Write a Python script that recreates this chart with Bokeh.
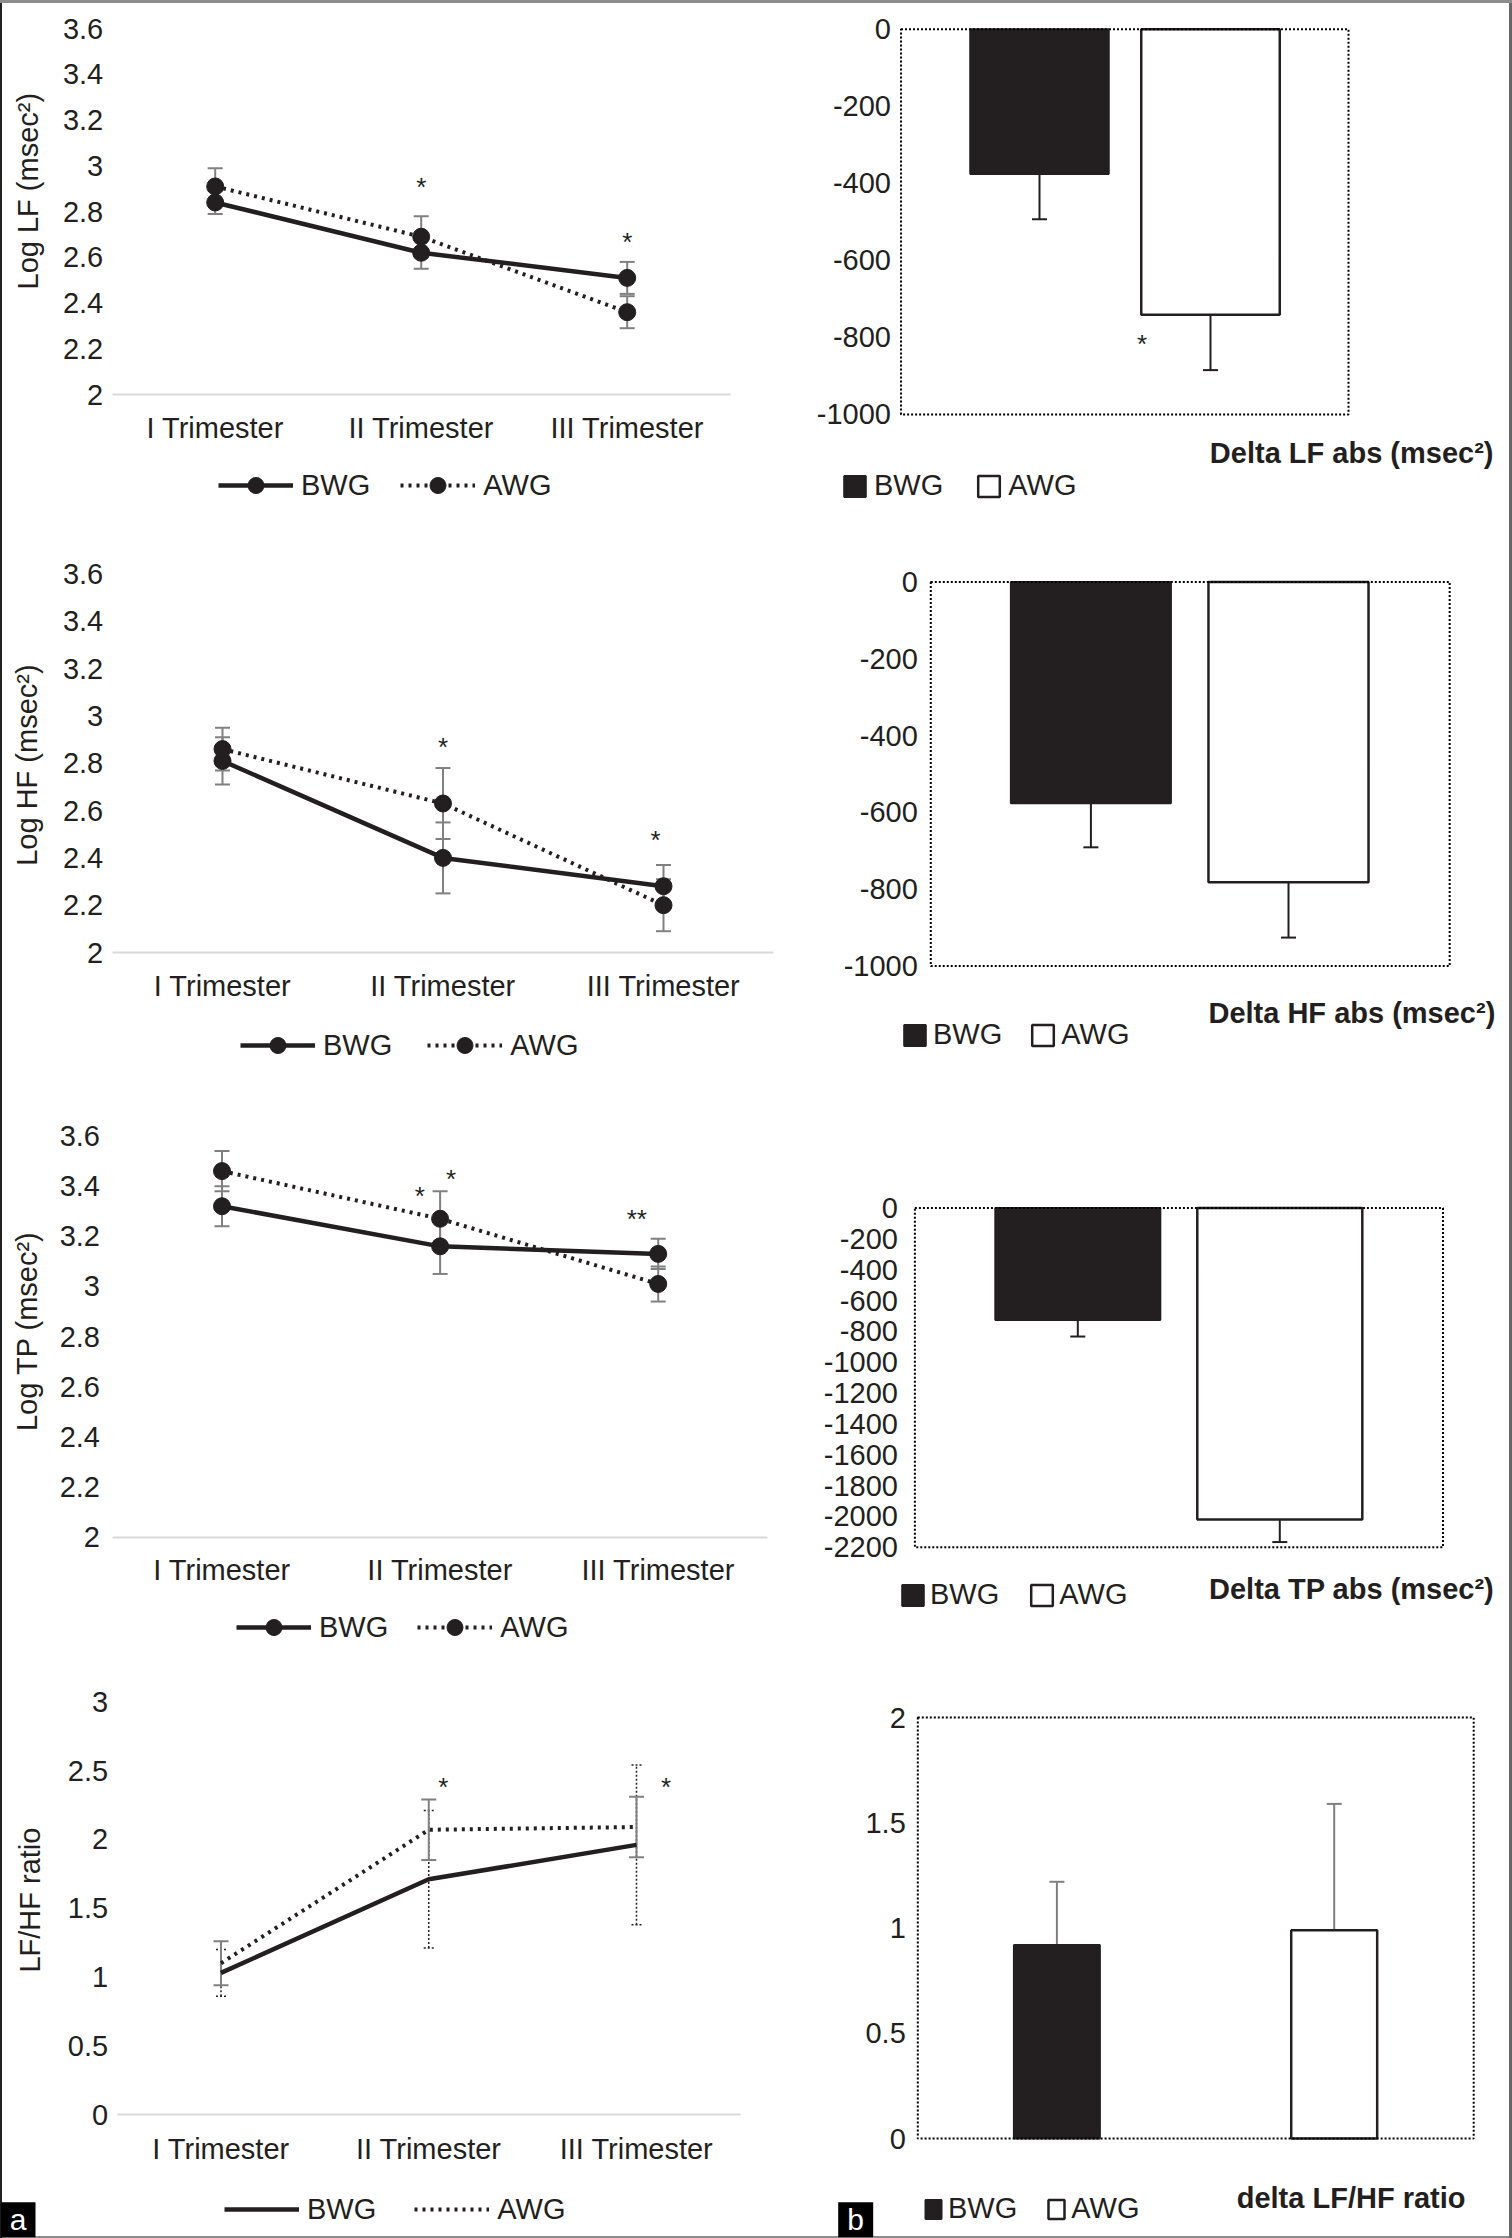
import math
from bokeh.plotting import figure
from bokeh.models import (Range1d, FixedTicker, NumeralTickFormatter, CustomJSTickFormatter, Whisker,
                          TeeHead, ColumnDataSource, Legend, LegendItem, Label, BoxAnnotation)
from bokeh.layouts import row, column
from bokeh.core.properties import value
from bokeh.embed import file_html
from bokeh.resources import INLINE

# ---------------- data ----------------
TRIMESTERS = ["I Trimester", "II Trimester", "III Trimester"]
GROUPS = ["BWG", "AWG"]

LF_BWG = [2.84, 2.62, 2.51]
LF_BWG_ERR = [0.05, 0.07, 0.07]
LF_AWG = [2.91, 2.69, 2.36]
LF_AWG_ERR = [0.08, 0.09, 0.07]

HF_BWG = [2.81, 2.40, 2.28]
HF_BWG_ERR = [0.10, 0.15, 0.09]
HF_AWG = [2.86, 2.63, 2.20]
HF_AWG_ERR = [0.09, 0.15, 0.11]

TP_BWG = [3.32, 3.16, 3.13]
TP_BWG_ERR = [0.08, 0.11, 0.06]
TP_AWG = [3.46, 3.27, 3.01]
TP_AWG_ERR = [0.08, 0.11, 0.07]

RATIO_BWG = [1.03, 1.71, 1.96]
RATIO_BWG_ERR = [0.17, 0.50, 0.58]
RATIO_AWG = [1.10, 2.07, 2.09]
RATIO_AWG_ERR = [0.16, 0.22, 0.22]

DELTA_LF = [-376, -741]
DELTA_LF_ERR = [117, 144]
DELTA_HF = [-576, -782]
DELTA_HF_ERR = [115, 144]
DELTA_TP = [-725, -2020]
DELTA_TP_ERR = [108, 146]
DELTA_RATIO = [0.92, 0.99]
DELTA_RATIO_ERR = [0.30, 0.60]

LOG_TICKS = [2, 2.2, 2.4, 2.6, 2.8, 3, 3.2, 3.4, 3.6]
RATIO_TICKS = [0, 0.5, 1, 1.5, 2, 2.5, 3]
DELTA_1000_TICKS = [-1000, -800, -600, -400, -200, 0]
DELTA_2200_TICKS = [-2200, -2000, -1800, -1600, -1400, -1200, -1000, -800, -600, -400, -200, 0]
DELTA_RATIO_TICKS = [0, 0.5, 1, 1.5, 2]

# significance marks: (category index, offset within category, y value, mark)
LF_STARS = [(1, 0.0, 2.93, "*"), (2, 0.0, 2.69, "*")]
HF_STARS = [(1, 0.0, 2.89, "*"), (2, -0.036, 2.495, "*")]
TP_STARS = [(1, -0.093, 3.38, "*"), (1, 0.05, 3.45, "*"), (2, -0.098, 3.29, "**")]
RATIO_STARS = [(1, 0.07, 2.42, "*"), (2, 0.142, 2.42, "*")]
DELTA_LF_STARS = [(1, -0.40, -804, "*")]

XI = list(range(len(TRIMESTERS)))
GI = list(range(len(GROUPS)))

# ---------------- style ----------------
FONT = "Liberation Sans"
INK = "#231f20"
ERR_GRAY = "#808080"
AXIS_GRAY = "#d9d9d9"
FS = "29px"


def rng(pa, va, pb, vb, size):
    """Range whose scale maps value va -> pixel pa and vb -> pb over a canvas of `size` px."""
    b = (pb - pa) / (vb - va)
    lo = va - pa / b
    hi = va + (size - pa) / b
    return Range1d(min(lo, hi), max(lo, hi))


def make_fig(W, H, xr, yr):
    p = figure(width=W, height=H, x_range=xr, y_range=yr, output_backend="svg",
               toolbar_location=None, min_border=0)
    p.xgrid.visible = False
    p.ygrid.visible = False
    p.background_fill_color = None
    p.border_fill_color = None
    p.outline_line_color = None
    return p


def style_yaxis(ya, ticks, loc, standoff):
    ya.fixed_location = loc
    ya.bounds = (ticks[0], ticks[-1])
    ya.axis_line_color = None
    ya.major_tick_line_color = None
    ya.minor_tick_line_color = None
    ya.major_tick_out = 0
    ya.major_tick_in = 0
    ya.ticker = FixedTicker(ticks=ticks)
    ya.formatter = NumeralTickFormatter(format="0.[0]")
    ya.major_label_text_font = FONT
    ya.major_label_text_font_size = FS
    ya.major_label_text_color = INK
    ya.major_label_standoff = standoff


def add_stars(p, stars):
    for ci, off, yv, txt in stars:
        s = ColumnDataSource(dict(x=[ci + off], y=[yv], t=[txt]))
        p.text(x="x", y="y", text="t", source=s, text_font=value(FONT), text_font_size="26px",
               text_align="center", text_baseline="middle", text_color=INK, y_offset=5)


def tee(color, size, width, dash="solid"):
    return TeeHead(size=size, line_color=color, line_width=width, line_dash=dash)


def line_panel(W, H, xmap, ymap, yticks, bwg, bwg_err, awg, awg_err, ylabel, ylabel_xy, stars,
               legend_xy, legend_spacing, y_standoff, x_standoff=17, markers=True, ratio=False):
    xr = rng(xmap[0], XI[0], xmap[1], XI[-1], W)
    yr = rng(ymap[0], yticks[0], ymap[1], yticks[-1], H)
    p = make_fig(W, H, xr, yr)

    xa = p.xaxis[0]
    xa.fixed_location = yticks[0]
    xa.bounds = (XI[0] - 0.5, XI[-1] + 0.5)
    xa.axis_line_color = AXIS_GRAY
    xa.axis_line_width = 2
    xa.major_tick_line_color = None
    xa.minor_tick_line_color = None
    xa.major_tick_out = 0
    xa.major_tick_in = 0
    xa.ticker = FixedTicker(ticks=XI)
    xa.formatter = CustomJSTickFormatter(args=dict(labels=TRIMESTERS),
                                         code="return labels[Math.round(tick)] || '';")
    xa.major_label_text_font = FONT
    xa.major_label_text_font_size = FS
    xa.major_label_text_color = INK
    xa.major_label_standoff = x_standoff
    style_yaxis(p.yaxis[0], yticks, XI[0] - 0.5, y_standoff)

    def src(vals, errs):
        return ColumnDataSource(dict(x=XI, y=vals,
                                     lo=[v - e for v, e in zip(vals, errs)],
                                     hi=[v + e for v, e in zip(vals, errs)]))
    sb, sa = src(bwg, bwg_err), src(awg, awg_err)

    lb = p.line("x", "y", source=sb, line_color=INK, line_width=4.5)
    la = p.line("x", "y", source=sa, line_color=INK, line_width=4, line_dash="3 5")

    if ratio:
        wb = Whisker(source=sb, base="x", upper="hi", lower="lo", line_color=INK, line_width=1.5,
                     line_dash="2 2", upper_head=tee(INK, 10, 1.5, "2 2"), lower_head=tee(INK, 10, 1.5, "2 2"))
    else:
        wb = Whisker(source=sb, base="x", upper="hi", lower="lo", line_color=ERR_GRAY, line_width=2,
                     upper_head=tee(ERR_GRAY, 15, 2), lower_head=tee(ERR_GRAY, 15, 2))
    wa = Whisker(source=sa, base="x", upper="hi", lower="lo", line_color=ERR_GRAY, line_width=2,
                 upper_head=tee(ERR_GRAY, 15, 2), lower_head=tee(ERR_GRAY, 15, 2))
    p.add_layout(wb)
    p.add_layout(wa)

    rb, ra = [lb], [la]
    if markers:
        rb.append(p.scatter("x", "y", source=sb, size=17, marker="circle", fill_color=INK, line_color=INK))
        ra.append(p.scatter("x", "y", source=sa, size=17, marker="circle", fill_color=INK, line_color=INK))

    leg = Legend(items=[LegendItem(label=GROUPS[0], renderers=rb), LegendItem(label=GROUPS[1], renderers=ra)],
                 location=legend_xy, orientation="horizontal", glyph_width=75,
                 glyph_height=40 if markers else 36, label_standoff=8, spacing=legend_spacing,
                 padding=0, margin=0, border_line_color=None, background_fill_color=None,
                 label_text_font=FONT, label_text_font_size=FS, label_text_color=INK)
    p.add_layout(leg)

    add_stars(p, stars)

    p.add_layout(Label(x=ylabel_xy[0], y=ylabel_xy[1], x_units="screen", y_units="screen",
                       text=ylabel, angle=math.pi / 2, text_align="center", text_baseline="middle",
                       text_font=FONT, text_font_size=FS, text_color=INK))
    return p


def bar_panel(W, H, xmap, ymap, yticks, box_px, vals, errs, bar_w, title, title_xy,
              legend_xy, legend_spacing, label_standoff, y_standoff, stars=(), up=False, glyph=(27, 26)):
    xr = rng(xmap[0], GI[0], xmap[1], GI[-1], W)
    ya0, ya1 = (yticks[-1], yticks[0]) if not up else (yticks[0], yticks[-1])
    yr = rng(ymap[0], ya0, ymap[1], ya1, H)
    p = make_fig(W, H, xr, yr)
    p.xaxis.visible = False

    dx = (xmap[1] - xmap[0]) / (GI[-1] - GI[0])
    box_left = GI[0] + (box_px[0] - xmap[0]) / dx
    box_right = GI[0] + (box_px[1] - xmap[0]) / dx
    style_yaxis(p.yaxis[0], yticks, box_left, y_standoff)

    p.add_layout(BoxAnnotation(left=box_left, right=box_right, bottom=yticks[0], top=yticks[-1],
                               fill_color=None, fill_alpha=0, line_color="black", line_alpha=1,
                               line_width=2, line_dash="2 2"))

    rb = p.vbar(x=[GI[0]], bottom=0, top=[vals[0]], width=bar_w,
                fill_color=INK, line_color=INK, line_width=2)
    ra = p.vbar(x=[GI[1]], bottom=0, top=[vals[1]], width=bar_w,
                fill_color="white", line_color=INK, line_width=2.5)

    if up:
        s = ColumnDataSource(dict(x=GI, lo=vals, hi=[v + e for v, e in zip(vals, errs)]))
        w = Whisker(source=s, base="x", upper="hi", lower="lo", line_color=ERR_GRAY, line_width=2,
                    upper_head=tee(ERR_GRAY, 15, 2), lower_head=None)
    else:
        s = ColumnDataSource(dict(x=GI, hi=vals, lo=[v - e for v, e in zip(vals, errs)]))
        w = Whisker(source=s, base="x", upper="hi", lower="lo", line_color=INK, line_width=2,
                    lower_head=tee(INK, 15, 2), upper_head=None)
    p.add_layout(w)

    leg = Legend(items=[LegendItem(label=GROUPS[0], renderers=[rb]), LegendItem(label=GROUPS[1], renderers=[ra])],
                 location=legend_xy, orientation="horizontal", glyph_width=glyph[0], glyph_height=glyph[1],
                 label_standoff=label_standoff, spacing=legend_spacing, padding=0, margin=0,
                 border_line_color=None, background_fill_color=None,
                 label_text_font=FONT, label_text_font_size=FS, label_text_color=INK)
    p.add_layout(leg)

    add_stars(p, stars)

    p.add_layout(Label(x=title_xy[0], y=title_xy[1], x_units="screen", y_units="screen",
                       text=title, text_align="right", text_baseline="middle",
                       text_font=FONT, text_font_size=FS, text_font_style="bold", text_color=INK))
    return p


def panel_tag(p, box, center, letter):
    p.add_layout(BoxAnnotation(left=box[0], right=box[1], bottom=box[2], top=box[3],
                               left_units="screen", right_units="screen",
                               bottom_units="screen", top_units="screen",
                               fill_color="black", fill_alpha=1, line_color=None))
    p.add_layout(Label(x=center[0], y=center[1], x_units="screen", y_units="screen", text=letter,
                       text_align="center", text_baseline="middle", text_font=FONT,
                       text_font_size="30px", text_color="white"))


# ---------------- panels ----------------
p1 = line_panel(760, 520, (214.7, 626.7), (394, 28.2), LOG_TICKS,
                LF_BWG, LF_BWG_ERR, LF_AWG, LF_AWG_ERR, "Log LF (msec\u00b2)", (27, 329.3),
                LF_STARS, (218, 15), 30, 9)
r1 = bar_panel(752, 520, (279, 450), (28.8, 413.9), DELTA_1000_TICKS, (140.5, 588),
               DELTA_LF, DELTA_LF_ERR, 0.81, "Delta LF abs (msec\u00b2)", (733, 67.4),
               (81, 18), 32, 6, 10, stars=DELTA_LF_STARS)

p2 = line_panel(780, 560, (222, 663), (432, 53.6), LOG_TICKS,
                HF_BWG, HF_BWG_ERR, HF_AWG, HF_AWG_ERR, "Log HF (msec\u00b2)", (26.7, 315.4),
                HF_STARS, (240, 15), 35, 9)
r2 = bar_panel(732, 560, (310.4, 508), (61.4, 445.5), DELTA_1000_TICKS, (150.3, 669.2),
               DELTA_HF, DELTA_HF_ERR, 0.81, "Delta HF abs (msec\u00b2)", (714.8, 68),
               (121, 29), 27, 5, 13)

p3 = line_panel(775, 580, (221.5, 657.7), (456.8, 55.5), LOG_TICKS,
                TP_BWG, TP_BWG_ERR, TP_AWG, TP_AWG_ERR, "Log TP (msec\u00b2)", (26.7, 329.4),
                TP_STARS, (236, 13), 29, 13)
r3 = bar_panel(737, 580, (302.3, 504.3), (127.6, 466.8), DELTA_2200_TICKS, (139.4, 667.5),
               DELTA_TP, DELTA_TP_ERR, 0.817, "Delta TP abs (msec\u00b2)", (718.8, 71.4),
               (124, 49), 29, 4, 17)

p4 = line_panel(760, 578, (220.5, 636), (454.1, 41.3), RATIO_TICKS,
                RATIO_BWG, RATIO_BWG_ERR, RATIO_AWG, RATIO_AWG_ERR, "LF/HF ratio", (29, 338.4),
                RATIO_STARS, (224, 11), 38, 9, x_standoff=18, markers=False, ratio=True)
r4 = bar_panel(752, 578, (296.4, 573.7), (478.1, 57.1), DELTA_RATIO_TICKS, (157.3, 713.2),
               DELTA_RATIO, DELTA_RATIO_ERR, 0.31, "delta LF/HF ratio", (705, 40.6),
               (163, 13), 29, 5, 12, up=True, glyph=(20, 24))

panel_tag(p4, (0, 35, 1.3, 36.3), (17.5, 18.8), "a")
panel_tag(r4, (77.7, 112.7, 1.3, 36.3), (95.2, 18.8), "b")

root = column(row(p1, r1), row(p2, r2), row(p3, r3), row(p4, r4),
              styles={"background-color": "white",
                      "box-shadow": "inset 0 3px 0 #8c8c8c, inset 2px 0 0 #222222, "
                                    "inset -3px 0 0 #666666, inset 0 -2px 0 #8c8c8c"})

open("out.html", "w").write(file_html(root, INLINE))
